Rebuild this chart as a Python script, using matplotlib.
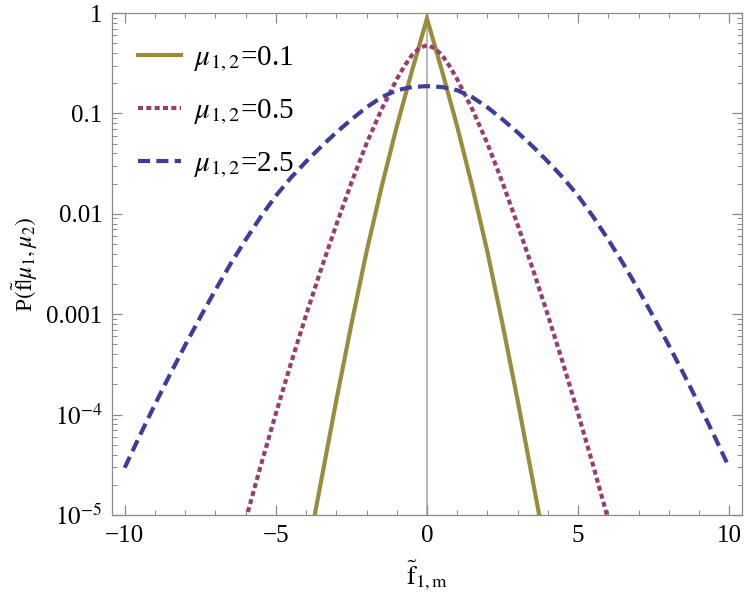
import numpy as np
import matplotlib
matplotlib.use('Agg')
import matplotlib.pyplot as plt
from matplotlib.ticker import FixedLocator, LogLocator, NullFormatter

# -- -----------------------------
# values
x_mu01 = [-3.75, -3.5, -3.0, -2.5, -2.0, -1.5, -1.0, -0.5, 0.0,
          0.5, 1.0, 1.5, 2.0, 2.5, 3.0, 3.5, 3.75]
p_mu01 = [8.7e-6, 2.19e-5, 1.38e-4, 7.94e-4, 4.17e-3, 1.86e-2, 7.41e-2, 0.263, 0.881,
          0.263, 7.41e-2, 1.86e-2, 4.17e-3, 7.94e-4, 1.38e-4, 2.19e-5, 8.7e-6]

x_mu05 = [-6.0, -5.5, -5.0, -4.5, -4.0, -3.5, -3.0, -2.5, -2.0, -1.5, -1.0, -0.75, -0.5, -0.25, 0.0,
          0.25, 0.5, 0.75, 1.0, 1.5, 2.0, 2.5, 3.0, 3.5, 4.0, 4.5, 5.0, 5.5, 6.0]
p_mu05 = [8.9e-6, 3.09e-5, 1.02e-4, 3.24e-4, 9.77e-4, 2.82e-3, 7.76e-3, 2.04e-2, 5.01e-2, 0.110, 0.219, 0.295, 0.380, 0.447, 0.479,
          0.447, 0.380, 0.295, 0.219, 0.110, 5.01e-2, 2.04e-2, 7.76e-3, 2.82e-3, 9.77e-4, 3.24e-4, 1.02e-4, 3.09e-5, 8.9e-6]

x_mu25 = [-10.0, -9.5, -9.0, -8.5, -8.0, -7.5, -7.0, -6.5, -6.0, -5.5, -5.0, -4.5, -4.0, -3.5, -3.0,
          -2.5, -2.0, -1.5, -1.0, -0.5, 0.0, 0.5, 1.0, 1.5, 2.0, 2.5, 3.0, 3.5, 4.0, 4.5, 5.0,
          5.5, 6.0, 6.5, 7.0, 7.5, 8.0, 8.5, 9.0, 9.5, 10.0]
p_mu25 = [2.95e-5, 6.17e-5, 1.26e-4, 2.51e-4, 4.90e-4, 9.33e-4, 1.74e-3, 3.16e-3, 5.50e-3, 9.33e-3, 1.51e-2,
          2.29e-2, 3.31e-2, 4.68e-2, 6.46e-2, 8.71e-2, 0.115, 0.145, 0.170, 0.183, 0.187,
          0.183, 0.170, 0.145, 0.115, 8.71e-2, 6.46e-2, 4.68e-2, 3.31e-2, 2.29e-2, 1.51e-2,
          9.33e-3, 5.50e-3, 3.16e-3, 1.74e-3, 9.33e-4, 4.90e-4, 2.51e-4, 1.26e-4, 6.17e-5, 2.95e-5]

labels = [r'$\mu_{1,2}$=0.1', r'$\mu_{1,2}$=0.5', r'$\mu_{1,2}$=2.5']

y_ticks = [1e-5, 1e-4, 1e-3, 1e-2, 1e-1, 1]
y_tick_labels = [r'$10^{-5}$', r'$10^{-4}$', '0.001', '0.01', '0.1', '1']
x_ticks = [-10, -5, 0, 5, 10]
x_tick_labels = ['\u221210', '\u22125', '0', '5', '10']
# -- -----------------------------

# old Mathematica default plot colours
c_olive  = (0.60, 0.553, 0.24)
c_purple = (0.60, 0.24, 0.443)
c_blue   = (0.247, 0.24, 0.60)
c_frame  = '#8a8a8a'

plt.rcParams['font.family'] = ['Liberation Serif', 'DejaVu Serif']
plt.rcParams['mathtext.fontset'] = 'stix'

fig = plt.figure(figsize=(7.5, 6.03), dpi=100)
ax = fig.add_axes([0.1493, 0.146, 0.84, 0.8324])

# -- -----------------------------
# axis line at x = 0
ax.axvline(0, color='#b4b4b4', lw=1.3, zorder=1)

ax.plot(x_mu01, p_mu01, color=c_olive, lw=3, solid_joinstyle='miter',
        label=labels[0], zorder=3)
ax.plot(x_mu05, p_mu05, color=c_purple, lw=3, dashes=(1.2, 0.8),
        dash_capstyle='butt', label=labels[1], zorder=3)
ax.plot(x_mu25, p_mu25, color=c_blue, lw=3, dashes=(2.9, 1.5),
        dash_capstyle='butt', label=labels[2], zorder=3)

# -- -----------------------------
ax.set_yscale('log')
ax.set_xlim(-10.42, 10.42)
ax.set_ylim(1e-5, 1)

ax.set_xticks(x_ticks)
ax.set_xticklabels(x_tick_labels)
ax.xaxis.set_minor_locator(FixedLocator(np.arange(-10, 11, 1)))

ax.yaxis.set_major_locator(FixedLocator(y_ticks))
ax.set_yticklabels(y_tick_labels)
ax.yaxis.set_minor_locator(LogLocator(base=10, subs=np.arange(2, 10)))
ax.yaxis.set_minor_formatter(NullFormatter())

ax.tick_params(which='both', direction='in', top=True, right=True,
               color=c_frame, labelsize=18, pad=7)
ax.tick_params(which='major', length=7, width=0.9)
ax.tick_params(which='minor', length=3.5, width=0.7)

for s in ax.spines.values():
    s.set_color(c_frame)
    s.set_linewidth(0.9)

ax.set_xlabel(r'$\tilde{\mathrm{f}}_{1,\mathrm{m}}$', fontsize=19, labelpad=8)
ax.set_ylabel(r'P$(\tilde{\mathrm{f}}|\mu_{1},\mu_{2})$', fontsize=17, labelpad=4)

leg = ax.legend(loc='upper left', bbox_to_anchor=(0.042, 0.937), frameon=False,
                fontsize=21, handlelength=1.45, handletextpad=0.45,
                labelspacing=0.8, borderaxespad=0, borderpad=0)

fig.savefig('out.png', dpi=100)
